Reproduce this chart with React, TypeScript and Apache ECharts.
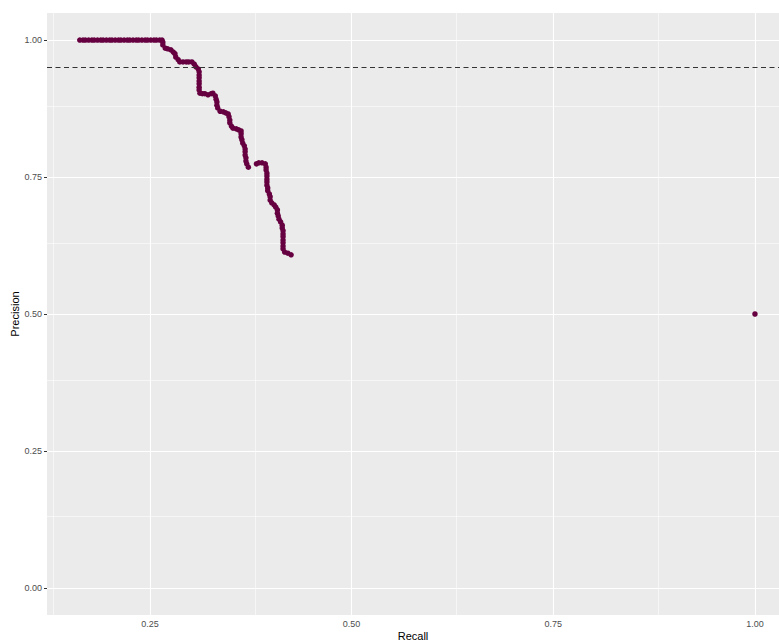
import React, { useEffect, useRef } from "react";
import * as echarts from "echarts";

// Top plateau (precision = 1)
const topRecall = [0.163, 0.167, 0.170, 0.174, 0.178, 0.181, 0.185, 0.189, 0.192, 0.196, 0.200, 0.203, 0.207, 0.211, 0.214, 0.218, 0.222, 0.225, 0.229, 0.233, 0.236, 0.240, 0.244, 0.247, 0.251, 0.255, 0.258, 0.262, 0.265];

// Descending part of the curve
const curveRecall = [
  0.266, 0.266, 0.269, 0.272, 0.276, 0.279, 0.281, 0.282, 0.285, 0.287,
  0.291, 0.295, 0.298, 0.302, 0.305, 0.307, 0.310, 0.311, 0.311, 0.311,
  0.311, 0.311, 0.311, 0.311, 0.312, 0.315, 0.318, 0.322, 0.326, 0.328,
  0.331, 0.332, 0.333, 0.333, 0.334, 0.337, 0.341, 0.344, 0.347, 0.348,
  0.349, 0.349, 0.351, 0.353, 0.357, 0.360, 0.363, 0.363, 0.363, 0.364,
  0.365, 0.367, 0.368, 0.368, 0.368, 0.369, 0.369, 0.370, 0.372,
  0.382, 0.385, 0.389, 0.393, 0.394, 0.394, 0.395, 0.395, 0.395, 0.395,
  0.395, 0.396, 0.396, 0.398, 0.399, 0.399, 0.401, 0.404, 0.406, 0.408,
  0.408, 0.409, 0.410, 0.412, 0.414, 0.414, 0.415, 0.415, 0.415, 0.415,
  0.415, 0.415, 0.415, 0.417, 0.421, 0.425,
];
const curvePrecision = [
  0.996, 0.991, 0.985, 0.984, 0.982, 0.978, 0.975, 0.969, 0.964, 0.960,
  0.960, 0.960, 0.960, 0.960, 0.956, 0.951, 0.947, 0.942, 0.936, 0.931,
  0.925, 0.920, 0.914, 0.909, 0.903, 0.902, 0.902, 0.900, 0.902, 0.903,
  0.898, 0.892, 0.887, 0.881, 0.876, 0.870, 0.869, 0.867, 0.865, 0.860,
  0.854, 0.849, 0.843, 0.839, 0.838, 0.836, 0.834, 0.829, 0.823, 0.818,
  0.812, 0.807, 0.801, 0.796, 0.790, 0.785, 0.779, 0.774, 0.768,
  0.774, 0.776, 0.776, 0.774, 0.768, 0.763, 0.757, 0.752, 0.746, 0.741,
  0.735, 0.730, 0.725, 0.719, 0.714, 0.708, 0.703, 0.699, 0.695, 0.690,
  0.684, 0.679, 0.673, 0.668, 0.662, 0.657, 0.652, 0.646, 0.641, 0.635,
  0.630, 0.624, 0.619, 0.613, 0.611, 0.608,
];

// Isolated end point
const endRecall = [1.0];
const endPrecision = [0.5];

const xMajor = [0.25, 0.5, 0.75, 1.0];
const xMinor = [0.125, 0.375, 0.625, 0.875];
const yMajor = [0, 0.25, 0.5, 0.75, 1.0];
const yMinor = [0.125, 0.375, 0.625, 0.875];
const threshold = 0.95;

const FONT = "'Liberation Sans', Arial, Helvetica, sans-serif";
const POINT = "#660040";

export default function App() {
  const ref = useRef<HTMLDivElement>(null);
  useEffect(() => {
    if (!ref.current) return;
    const chart = echarts.init(ref.current, undefined, { renderer: "svg" });
    const points: number[][] = [];
    topRecall.forEach((r) => points.push([r, 1]));
    curveRecall.forEach((r, i) => points.push([r, curvePrecision[i]]));
    endRecall.forEach((r, i) => points.push([r, endPrecision[i]]));

    const gridLines = [
      ...xMinor.map((v) => ({ xAxis: v, lineStyle: { width: 0.55 } })),
      ...yMinor.map((v) => ({ yAxis: v, lineStyle: { width: 0.55 } })),
      ...xMajor.map((v) => ({ xAxis: v, lineStyle: { width: 1.1 } })),
      ...yMajor.map((v) => ({ yAxis: v, lineStyle: { width: 1.1 } })),
    ];

    chart.setOption({
      animation: false,
      backgroundColor: "#ffffff",
      textStyle: { fontFamily: FONT },
      grid: {
        left: 47,
        top: 13,
        right: 0,
        bottom: 27,
        outerBoundsMode: "none",
        containLabel: false,
        show: true,
        backgroundColor: "#EBEBEB",
        borderWidth: 0,
      },
      xAxis: {
        type: "value",
        min: 0.1224,
        max: 1.0298,
        name: "Recall",
        nameLocation: "middle",
        nameGap: 15,
        nameMoveOverlap: false,
        nameTextStyle: { color: "#000", fontSize: 11, fontFamily: FONT },
        axisLine: { show: false },
        splitLine: { show: false },
        axisTick: {
          show: true,
          length: 3,
          customValues: xMajor,
          lineStyle: { color: "#333333", width: 1 },
        },
        axisLabel: {
          customValues: xMajor,
          color: "#4D4D4D",
          fontSize: 9,
          margin: 4,
          fontFamily: FONT,
          formatter: (v: number) => v.toFixed(2),
        },
      },
      yAxis: {
        type: "value",
        min: -0.0493,
        max: 1.0493,
        name: "Precision",
        nameLocation: "middle",
        nameRotate: 90,
        nameGap: 27,
        nameMoveOverlap: false,
        nameTextStyle: { color: "#000", fontSize: 11, fontFamily: FONT },
        axisLine: { show: false },
        splitLine: { show: false },
        axisTick: {
          show: true,
          length: 3,
          customValues: yMajor,
          lineStyle: { color: "#333333", width: 1 },
        },
        axisLabel: {
          customValues: yMajor,
          color: "#4D4D4D",
          fontSize: 9,
          margin: 5,
          fontFamily: FONT,
          formatter: (v: number) => v.toFixed(2),
        },
      },
      series: [
        {
          type: "scatter",
          data: [],
          z: 1,
          silent: true,
          markLine: {
            z: 1,
            silent: true,
            symbol: "none",
            label: { show: false },
            lineStyle: { color: "#FFFFFF", type: "solid" },
            data: gridLines,
          },
        },
        {
          type: "scatter",
          data: points,
          z: 2,
          symbol: "circle",
          symbolSize: 5.5,
          itemStyle: { color: POINT, opacity: 1 },
          silent: true,
        },
        {
          type: "scatter",
          data: [],
          z: 3,
          silent: true,
          markLine: {
            z: 3,
            silent: true,
            symbol: "none",
            label: { show: false },
            lineStyle: { color: "#333333", type: [5, 3.5], width: 1.1 },
            data: [{ yAxis: threshold }],
          },
        },
      ],
    });
    return () => chart.dispose();
  }, []);
  return (
    <div
      ref={ref}
      style={{ position: "fixed", left: 0, top: 0, width: 779, height: 642 }}
    />
  );
}
